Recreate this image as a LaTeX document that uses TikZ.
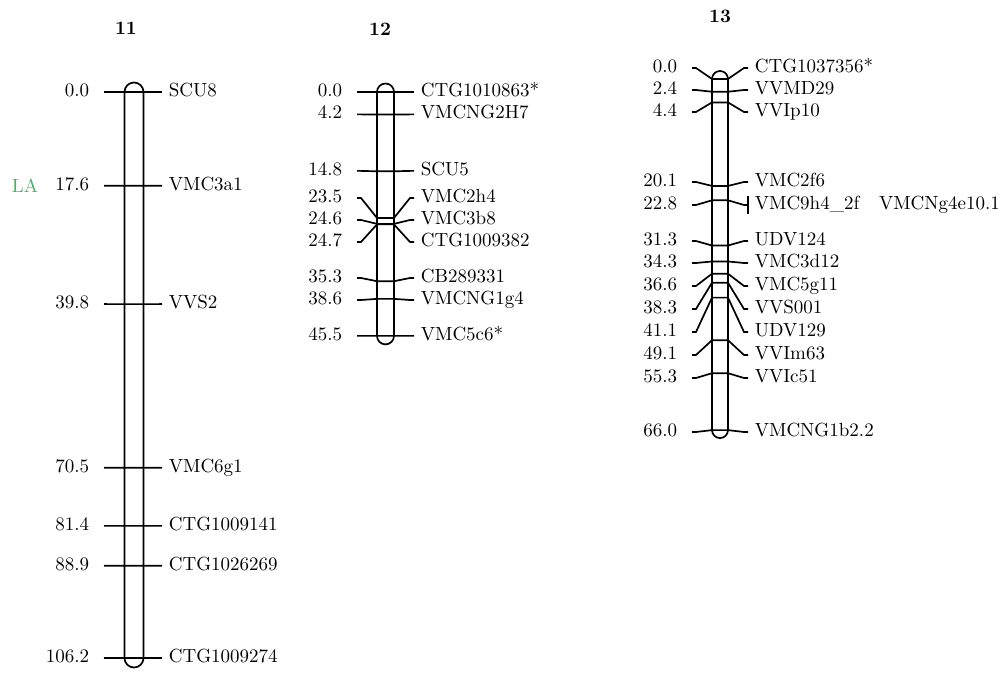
\documentclass[tikz,border=0pt]{standalone}
\usepackage{tikz}
\usetikzlibrary{positioning}
\definecolor{laGreen}{RGB}{70,180,100}
\tikzset{>=latex}
\tikzset{font=\fontsize{9.5}{11}\selectfont}
\tikzset{
  numlbl/.style={anchor=mid east, inner xsep=7pt, inner ysep=0pt},
  namelbl/.style={anchor=mid west, inner xsep=3pt, inner ysep=0pt},
  chrtitle/.style={font=\fontsize{9.5}{11}\selectfont\bfseries},
  chrbar/.style={line width=0.85pt},
  every path/.style={line width=0.85pt}
}
\begin{document}
\begin{tikzpicture}[x=0.5pt, y=-0.5pt]
  \useasboundingbox (0,0) rectangle (998,673);
  % linkage group 11
  \node[chrtitle] (t11) at (126,28) {11};
  \node[text=laGreen] (la) at (25,186) {LA};
  \draw[chrbar, rounded corners=4.75pt] (124.5,82.5) rectangle (143.5,667.5);
  \foreach \cm/\yl/\nm [count=\i] in {0.0/92/SCU8, 17.6/185.8/VMC3a1, 39.8/304.1/VVS2,
      70.5/467.8/VMC6g1, 81.4/525.9/CTG1009141, 88.9/565.8/CTG1026269,
      106.2/658/CTG1009274}{
    \pgfmathsetmacro\ym{92+\cm*5.33}
    \node[numlbl] (c11n\i) at (104,\yl) {\cm};
    \node[namelbl] (c11m\i) at (162,\yl) {\nm};
    \draw (c11n\i.mid east) -- (124.5,\ym) -- (143.5,\ym) -- (c11m\i.mid west);
  }
  % linkage group 12
  \node[chrtitle] (t12) at (380,29) {12};
  \draw[chrbar, rounded corners=4.25pt] (377,83.5) rectangle (394,344.4);
  \foreach \cm/\yl/\nm [count=\i] in {0.0/92/CTG1010863*, 4.2/114.4/VMCNG2H7,
      14.8/170.9/SCU5, 23.5/198/VMC2h4, 24.6/220/VMC3b8, 24.7/242/CTG1009382,
      35.3/278/CB289331, 38.6/300/VMCNG1g4, 45.5/335.9/VMC5c6*}{
    \pgfmathsetmacro\ym{92+\cm*5.36}
    \node[numlbl] (c12n\i) at (357,\yl) {\cm};
    \node[namelbl] (c12m\i) at (414,\yl) {\nm};
    \draw (c12n\i.mid east) -- ++(4,0) -- (377,\ym) -- (394,\ym)
      -- ([xshift=-2pt]c12m\i.mid west) -- (c12m\i.mid west);
  }
  % linkage group 13
  \node[chrtitle] (t13) at (720,16) {13};
  \draw[chrbar, rounded corners=4pt] (712,71) rectangle (728,438.1);
  \foreach \cm/\yl/\nm [count=\i] in {0.0/68/CTG1037356*, 2.4/90/VVMD29,
      4.4/112/VVIp10, 20.1/182/VMC2f6, 22.8/205/VMC9h4\_2f, 31.3/241/UDV124,
      34.3/263/VMC3d12, 36.6/286/VMC5g11, 38.3/309/VVS001, 41.1/332/UDV129,
      49.1/355/VVIm63, 55.3/378/VVIc51, 66.0/432/VMCNG1b2.2}{
    \pgfmathsetmacro\ym{79+\cm*5.32}
    \node[numlbl] (c13n\i) at (692,\yl) {\cm};
    \node[namelbl] (c13m\i) at (748,\yl) {\nm};
    \draw (c13n\i.mid east) -- ++(4,0) -- (712,\ym) -- (728,\ym)
      -- ([xshift=-2pt]c13m\i.mid west) -- (c13m\i.mid west);
  }
  % second locus at 22.8
  \node[namelbl, inner xsep=0pt, base right=6pt of c13m5] (c13m5b) {VMCNg4e10.1};
  \draw ([yshift=4.5pt]c13m5.mid west) -- ([yshift=-4.5pt]c13m5.mid west);
\end{tikzpicture}
\end{document}
